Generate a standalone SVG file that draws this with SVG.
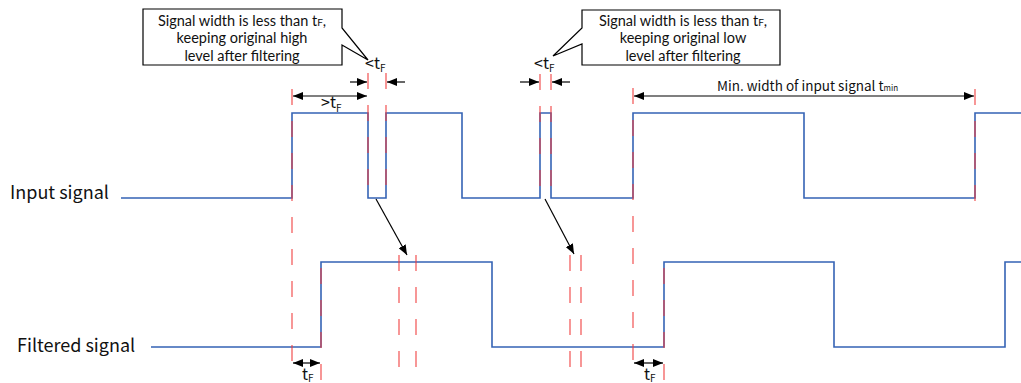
<svg xmlns="http://www.w3.org/2000/svg" width="1021" height="383" viewBox="0 0 1021 383">
<style>
.wave{fill:none;stroke:#3563B5;stroke-width:1.6}
.red{fill:none;stroke:#F03A3A;stroke-width:1.4;stroke-dasharray:16 16;opacity:0.75}
.arrs{fill:none;stroke:#000;stroke-width:1.2;marker-end:url(#ah)}
.arrd{fill:none;stroke:#000;stroke-width:1.2;marker-end:url(#ah);marker-start:url(#ah)}
.box{fill:#fff;stroke:#000;stroke-width:1.2}
text{font-family:"Noto Sans CJK SC","Noto Sans",sans-serif;fill:#111}
.lbl{font-size:18px}
.c{font-family:Lato,"Noto Sans",sans-serif;font-size:14.5px;text-anchor:middle}
.t{font-size:16px}
.sub{font-size:10px}
</style>
<defs>
<marker id="ah" viewBox="0 0 10 8" refX="10" refY="4" markerWidth="10" markerHeight="8" markerUnits="userSpaceOnUse" orient="auto-start-reverse">
<path d="M0,0 L10,4 L0,8 z" fill="#000"/>
</marker>
</defs>

<g id="labels">
<text class="lbl" x="10" y="199">Input signal</text>
<text class="lbl" x="17" y="352">Filtered signal</text>
</g>

<g id="input-signal">
<path class="wave" d="M121,198 H292 V113 H368 V198 H386 V113 H462 V198 H540 V113 H551 V198 H633 V113 H804 V198 H975 V113 H1021"/>
</g>
<g id="filtered-signal">
<path class="wave" d="M151,347 H321 V262 H492 V347 H664 V262 H834 V347 H1005 V262 H1021"/>
</g>

<g id="guides">
<path class="red" d="M292,89 V363"/>
<path class="red" d="M368,73 V198"/>
<path class="red" d="M386,73 V198"/>
<path class="red" d="M540,74 V198"/>
<path class="red" d="M551,74 V198"/>
<path class="red" d="M633,88 V365"/>
<path class="red" d="M975,89 V202"/>
<path class="red" d="M399,255 V368"/>
<path class="red" d="M416,255 V368"/>
<path class="red" d="M570,255 V368"/>
<path class="red" d="M581,255 V368"/>
<path class="red" d="M321,380 V262"/>
<path class="red" d="M664,380 V262"/>
</g>

<g id="connectors">
<path class="arrd" d="M293,96 H367"/>
<path class="arrs" d="M350,82 H367"/>
<path class="arrs" d="M405,82 H387"/>
<path class="arrs" d="M520,82 H539"/>
<path class="arrs" d="M570,82 H552"/>
<path class="arrd" d="M634,96 H974"/>
<path class="arrd" d="M293,363 H320"/>
<path class="arrd" d="M634,363 H663"/>
<path class="arrs" d="M376,199 L407,255"/>
<path class="arrs" d="M545,199 L574,254"/>
</g>

<g id="callout-high">
<path class="box" d="M143,9 H342 V28 L368,60 L342,45 V65 H143 Z"/>
<text class="c" x="242" y="25.5">Signal width is less than t<tspan class="sub">F</tspan>,</text>
<text class="c" x="242" y="43">keeping original high</text>
<text class="c" x="242" y="60.5">level after filtering</text>
</g>

<g id="callout-low">
<path class="box" d="M582,10 H780 V65 H582 V44 L553,56 L582,28 Z"/>
<text class="c" x="683" y="25.5">Signal width is less than t<tspan class="sub">F</tspan>,</text>
<text class="c" x="683" y="43">keeping original low</text>
<text class="c" x="683" y="60.5">level after filtering</text>
</g>

<g id="dim-labels">
<text class="t" x="321" y="108">&gt;t<tspan class="sub" dy="4">F</tspan></text>
<text class="t" x="365" y="69">&lt;t<tspan class="sub" dy="3">F</tspan></text>
<text class="t" x="534" y="69">&lt;t<tspan class="sub" dy="3">F</tspan></text>
<text class="t" x="302" y="380">t<tspan class="sub" dy="2">F</tspan></text>
<text class="t" x="644" y="380">t<tspan class="sub" dy="2">F</tspan></text>
<text style="font-size:13.5px" x="717" y="91">Min. width of input signal t<tspan style="font-size:8px">min</tspan></text>
</g>
</svg>
